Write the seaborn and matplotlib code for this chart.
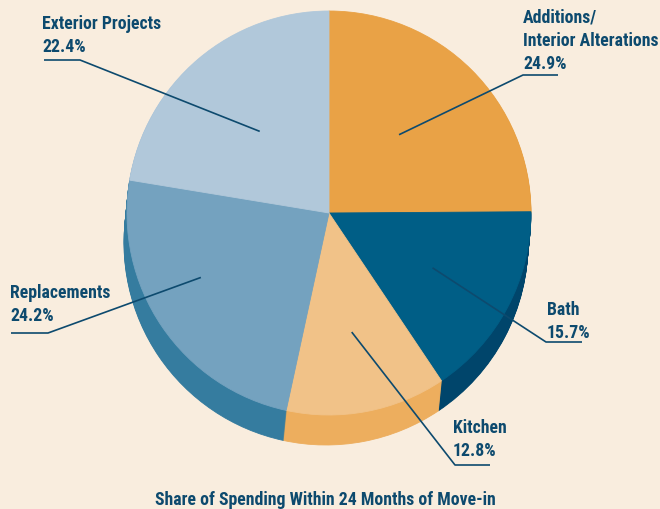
import numpy as np
import matplotlib
matplotlib.use("Agg")
import matplotlib.pyplot as plt
import seaborn as sns
from matplotlib import font_manager

# data ------------
categories = ["Additions/\nInterior Alterations", "Bath", "Kitchen", "Replacements", "Exterior Projects"]
shares = [24.9, 15.7, 12.8, 24.2, 22.4]
top_colors = ["#E9A246", "#005E86", "#F1C288", "#74A2BF", "#B1C8DA"]
side_colors = ["#D68F34", "#00456B", "#EDAE5E", "#357C9F", "#8FAFC8"]
caption = "Share of Spending Within 24 Months of Move-in"

bg = "#F9EDDE"
ink = "#0D4A6E"

sns.set_style("white", {"axes.facecolor": bg, "figure.facecolor": bg})

# pick a narrow bold font if there is one
names = {f.name for f in font_manager.fontManager.ttflist}
font = "DejaVu Sans"
for cand in ["Liberation Sans Narrow", "Roboto Condensed", "DejaVu Sans Condensed", "Liberation Sans"]:
    if cand in names:
        font = cand
        break
fsize = 12.8 if font in ("Liberation Sans Narrow", "Roboto Condensed") else 10.5
plt.rcParams["font.family"] = [font, "DejaVu Sans"]

W, H = 660, 510
fig = plt.figure(figsize=(6.6, 5.1), dpi=100)
ax = fig.add_axes([0, 0, 1, 1])

# pie geometry in pixel units (y up)
cx, cy, r = 329, H - 214, 202
depth, shift = 30, -3

# extrusion: stacked copies of the pie in darker colours
for k in range(depth, 0, -1):
    w_side, _ = ax.pie(shares, colors=side_colors, startangle=90, counterclock=False,
                       radius=r, center=(cx + shift * k / depth, cy - k),
                       wedgeprops=dict(linewidth=0.6))
    for w in w_side:
        w.set_edgecolor(w.get_facecolor())

wedges, _ = ax.pie(shares, colors=top_colors, startangle=90, counterclock=False,
                   radius=r, center=(cx, cy), wedgeprops=dict(linewidth=0.6))
for w in wedges:
    w.set_edgecolor(w.get_facecolor())

ax.set_xlim(0, W)
ax.set_ylim(0, H)
ax.set_aspect("equal")
ax.axis("off")

# label layout: text left x, first baseline, knee, underline end, radial fraction, angle nudge
layout = [
    (523, 22.7, (523, 76), 558, 0.52, 3),
    (547, 315, (546, 343), 582, 0.58, 0),
    (453, 433, (455, 466), 490, 0.60, 0),
    (10, 298, (48, 334), 11, 0.71, -7.5),
    (42, 29, (80, 61), 44, 0.53, 0),
]
line_gap = 23

for wdg, cat, val, (tx, ty, knee, end, frac, nudge) in zip(wedges, categories, shares, layout):
    mid = np.deg2rad((wdg.theta1 + wdg.theta2) / 2 + nudge)
    px, py = cx + frac * r * np.cos(mid), cy + frac * r * np.sin(mid)
    kx, ky = knee[0], H - knee[1]
    ax.plot([px, kx, end], [py, ky, ky], color=ink, lw=1.2, solid_capstyle="butt", zorder=5)
    lines = cat.split("\n") + [f"{val:.1f}%"]
    for i, s in enumerate(lines):
        ax.text(tx, H - (ty + i * line_gap), s, ha="left", va="baseline",
                fontsize=fsize, fontweight="bold", color=ink, zorder=6)

ax.text(325, H - 505, caption, ha="center", va="baseline",
        fontsize=fsize, fontweight="bold", color=ink)

fig.savefig("out.png", dpi=100, facecolor=bg)
